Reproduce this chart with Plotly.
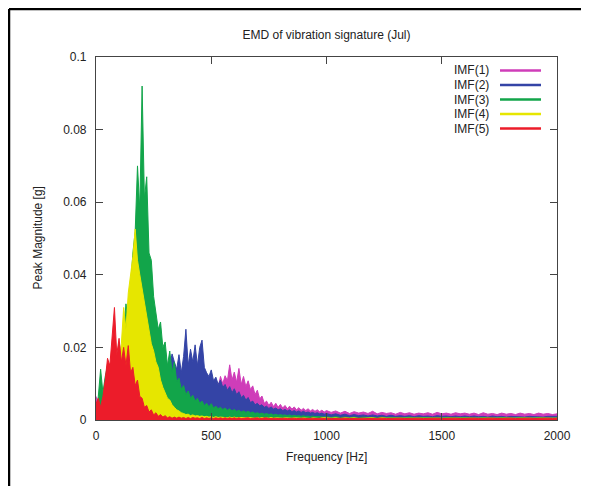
import plotly.graph_objects as go

# ---------------- data ----------------
# frequency grid [Hz]: 10 Hz steps up to 1000 Hz, 20 Hz steps above
freq_hz = list(range(0, 1001, 10)) + list(range(1020, 2001, 20))

series_names = ["IMF(1)", "IMF(2)", "IMF(3)", "IMF(4)", "IMF(5)"]

imf1 = [
    0.0065, 0.0040, 0.0030, 0.0020, 0.0015, 0.0018, 0.0012, 0.0016, 0.0012, 0.0015,
    0.0012, 0.0016, 0.0013, 0.0017, 0.0014, 0.0018, 0.0015, 0.0019, 0.0016, 0.0020,
    0.0018, 0.0022, 0.0020, 0.0025, 0.0022, 0.0028, 0.0025, 0.0030, 0.0028, 0.0034,
    0.0032, 0.0038, 0.0036, 0.0042, 0.0040, 0.0046, 0.0044, 0.0050, 0.0048, 0.0055,
    0.0052, 0.0060, 0.0058, 0.0066, 0.0064, 0.0072, 0.0070, 0.0078, 0.0076, 0.0085,
    0.0082, 0.0096, 0.0110, 0.0090, 0.0120, 0.0100, 0.0122, 0.0108, 0.0152, 0.0110,
    0.0132, 0.0104, 0.0142, 0.0098, 0.0120, 0.0092, 0.0108, 0.0084, 0.0094, 0.0070,
    0.0082, 0.0058, 0.0066, 0.0046, 0.0052, 0.0040, 0.0049, 0.0037, 0.0046, 0.0035,
    0.0043, 0.0033, 0.0040, 0.0031, 0.0038, 0.0030, 0.0036, 0.0028, 0.0034, 0.0027,
    0.0032, 0.0026, 0.0031, 0.0025, 0.0029, 0.0024, 0.0028, 0.0023, 0.0027, 0.0022,
    0.0026,
    0.0021, 0.0025, 0.0019, 0.0024, 0.0018, 0.0023, 0.0019, 0.0022, 0.0018, 0.0024,
    0.0017, 0.0021, 0.0018, 0.0020, 0.0016, 0.0021, 0.0017, 0.0020, 0.0016, 0.0019,
    0.0017, 0.0020, 0.0016, 0.0021, 0.0017, 0.0019, 0.0016, 0.0020, 0.0017, 0.0019,
    0.0016, 0.0019, 0.0015, 0.0020, 0.0016, 0.0018, 0.0015, 0.0019, 0.0016, 0.0018,
    0.0015, 0.0019, 0.0016, 0.0018, 0.0015, 0.0019, 0.0016, 0.0018, 0.0015, 0.0017,
]

imf2 = [
    0.0008, 0.0012, 0.0006, 0.0010, 0.0020, 0.0010, 0.0035, 0.0018, 0.0040, 0.0020,
    0.0032, 0.0015, 0.0025, 0.0014, 0.0030, 0.0020, 0.0032, 0.0025, 0.0036, 0.0030,
    0.0040, 0.0036, 0.0048, 0.0044, 0.0056, 0.0052, 0.0066, 0.0062, 0.0080, 0.0090,
    0.0105, 0.0120, 0.0150, 0.0182, 0.0160, 0.0140, 0.0180, 0.0130, 0.0175, 0.0250,
    0.0150, 0.0195, 0.0160, 0.0207, 0.0150, 0.0200, 0.0220, 0.0145, 0.0130, 0.0120,
    0.0138, 0.0108, 0.0118, 0.0098, 0.0110, 0.0090, 0.0098, 0.0082, 0.0092, 0.0075,
    0.0086, 0.0070, 0.0078, 0.0062, 0.0068, 0.0055, 0.0062, 0.0048, 0.0052, 0.0042,
    0.0046, 0.0039, 0.0042, 0.0035, 0.0038, 0.0032, 0.0036, 0.0030, 0.0033, 0.0028,
    0.0031, 0.0026, 0.0029, 0.0025, 0.0028, 0.0023, 0.0026, 0.0022, 0.0025, 0.0021,
    0.0024, 0.0020, 0.0022, 0.0019, 0.0021, 0.0018, 0.0020, 0.0017, 0.0019, 0.0016,
    0.0018,
    0.0014, 0.0017, 0.0013, 0.0016, 0.0012, 0.0015, 0.0012, 0.0014, 0.0011, 0.0014,
    0.0011, 0.0013, 0.0010, 0.0013, 0.0010, 0.0012, 0.0010, 0.0012, 0.0009, 0.0012,
    0.0010, 0.0011, 0.0009, 0.0012, 0.0010, 0.0011, 0.0009, 0.0011, 0.0009, 0.0011,
    0.0009, 0.0011, 0.0009, 0.0010, 0.0008, 0.0011, 0.0009, 0.0010, 0.0008, 0.0010,
    0.0009, 0.0010, 0.0008, 0.0010, 0.0009, 0.0010, 0.0008, 0.0010, 0.0009, 0.0010,
]

imf3 = [
    0.0020, 0.0065, 0.0140, 0.0075, 0.0120, 0.0150, 0.0095, 0.0140, 0.0175, 0.0150,
    0.0215, 0.0170, 0.0240, 0.0320, 0.0270, 0.0380, 0.0460, 0.0520, 0.0700, 0.0580,
    0.0920, 0.0610, 0.0670, 0.0460, 0.0440, 0.0340, 0.0300, 0.0250, 0.0270, 0.0200,
    0.0215, 0.0150, 0.0190, 0.0130, 0.0160, 0.0105, 0.0115, 0.0085, 0.0095, 0.0070,
    0.0080, 0.0060, 0.0068, 0.0052, 0.0060, 0.0046, 0.0052, 0.0040, 0.0046, 0.0036,
    0.0045, 0.0033, 0.0038, 0.0031, 0.0035, 0.0029, 0.0033, 0.0027, 0.0031, 0.0025,
    0.0029, 0.0024, 0.0027, 0.0022, 0.0025, 0.0021, 0.0024, 0.0020, 0.0022, 0.0018,
    0.0020, 0.0017, 0.0019, 0.0016, 0.0018, 0.0015, 0.0017, 0.0014, 0.0016, 0.0013,
    0.0015, 0.0013, 0.0014, 0.0012, 0.0014, 0.0011, 0.0013, 0.0011, 0.0012, 0.0010,
    0.0012, 0.0010, 0.0011, 0.0009, 0.0011, 0.0009, 0.0010, 0.0009, 0.0010, 0.0008,
    0.0009,
    0.0007, 0.0009, 0.0007, 0.0008, 0.0006, 0.0008, 0.0006, 0.0008, 0.0006, 0.0007,
    0.0006, 0.0008, 0.0006, 0.0007, 0.0006, 0.0007, 0.0006, 0.0008, 0.0006, 0.0007,
    0.0006, 0.0007, 0.0006, 0.0007, 0.0005, 0.0007, 0.0006, 0.0007, 0.0006, 0.0007,
    0.0006, 0.0007, 0.0005, 0.0007, 0.0006, 0.0007, 0.0005, 0.0007, 0.0006, 0.0007,
    0.0005, 0.0007, 0.0006, 0.0007, 0.0005, 0.0007, 0.0006, 0.0007, 0.0005, 0.0006,
]

imf4 = [
    0.0015, 0.0025, 0.0012, 0.0030, 0.0020, 0.0045, 0.0035, 0.0070, 0.0060, 0.0120,
    0.0160, 0.0210, 0.0310, 0.0250, 0.0350, 0.0400, 0.0450, 0.0526, 0.0440, 0.0400,
    0.0360, 0.0330, 0.0280, 0.0250, 0.0210, 0.0190, 0.0160, 0.0145, 0.0110, 0.0090,
    0.0075, 0.0060, 0.0055, 0.0042, 0.0035, 0.0028, 0.0025, 0.0020, 0.0018, 0.0015,
    0.0016, 0.0012, 0.0014, 0.0011, 0.0012, 0.0010, 0.0011, 0.0009, 0.0010, 0.0008,
    0.0009, 0.0007, 0.0009, 0.0007, 0.0008, 0.0007, 0.0008, 0.0006, 0.0008, 0.0006,
    0.0008, 0.0006, 0.0007, 0.0006, 0.0007, 0.0006, 0.0007, 0.0006, 0.0007, 0.0005,
    0.0007, 0.0005, 0.0007, 0.0005, 0.0006, 0.0005, 0.0007, 0.0005, 0.0006, 0.0005,
    0.0006, 0.0005, 0.0006, 0.0005, 0.0006, 0.0005, 0.0006, 0.0005, 0.0006, 0.0005,
    0.0006, 0.0005, 0.0006, 0.0004, 0.0006, 0.0005, 0.0006, 0.0004, 0.0006, 0.0005,
    0.0006,
    0.0005, 0.0006, 0.0004, 0.0006, 0.0005, 0.0006, 0.0004, 0.0005, 0.0005, 0.0006,
    0.0004, 0.0006, 0.0005, 0.0005, 0.0004, 0.0006, 0.0005, 0.0005, 0.0004, 0.0006,
    0.0005, 0.0005, 0.0004, 0.0006, 0.0005, 0.0005, 0.0004, 0.0006, 0.0005, 0.0005,
    0.0004, 0.0006, 0.0005, 0.0005, 0.0004, 0.0006, 0.0005, 0.0005, 0.0004, 0.0005,
    0.0005, 0.0005, 0.0004, 0.0006, 0.0005, 0.0005, 0.0004, 0.0005, 0.0005, 0.0005,
]

imf5 = [
    0.0045, 0.0060, 0.0035, 0.0065, 0.0110, 0.0170, 0.0150, 0.0240, 0.0310, 0.0180,
    0.0225, 0.0160, 0.0200, 0.0150, 0.0205, 0.0130, 0.0145, 0.0095, 0.0110, 0.0065,
    0.0060, 0.0035, 0.0040, 0.0022, 0.0028, 0.0014, 0.0020, 0.0010, 0.0015, 0.0008,
    0.0012, 0.0006, 0.0009, 0.0005, 0.0008, 0.0005, 0.0008, 0.0005, 0.0007, 0.0004,
    0.0007, 0.0004, 0.0007, 0.0005, 0.0006, 0.0004, 0.0007, 0.0004, 0.0006, 0.0004,
    0.0006, 0.0004, 0.0006, 0.0004, 0.0006, 0.0004, 0.0006, 0.0004, 0.0006, 0.0004,
    0.0006, 0.0004, 0.0006, 0.0004, 0.0005, 0.0004, 0.0006, 0.0004, 0.0005, 0.0004,
    0.0006, 0.0004, 0.0005, 0.0004, 0.0006, 0.0004, 0.0005, 0.0004, 0.0005, 0.0004,
    0.0005, 0.0004, 0.0005, 0.0004, 0.0005, 0.0004, 0.0005, 0.0004, 0.0005, 0.0004,
    0.0005, 0.0004, 0.0005, 0.0004, 0.0005, 0.0004, 0.0005, 0.0004, 0.0005, 0.0004,
    0.0005,
    0.0004, 0.0005, 0.0004, 0.0005, 0.0004, 0.0005, 0.0004, 0.0005, 0.0004, 0.0005,
    0.0004, 0.0005, 0.0004, 0.0005, 0.0004, 0.0005, 0.0004, 0.0005, 0.0004, 0.0005,
    0.0004, 0.0005, 0.0004, 0.0005, 0.0004, 0.0005, 0.0004, 0.0005, 0.0004, 0.0005,
    0.0004, 0.0005, 0.0004, 0.0005, 0.0004, 0.0005, 0.0004, 0.0005, 0.0004, 0.0005,
    0.0004, 0.0005, 0.0004, 0.0005, 0.0004, 0.0005, 0.0004, 0.0005, 0.0004, 0.0005,
]

x_tick_vals = [0, 500, 1000, 1500, 2000]
x_tick_text = ["0", "500", "1000", "1500", "2000"]
y_tick_vals = [0, 0.02, 0.04, 0.06, 0.08, 0.1]
y_tick_text = ["0", "0.02", "0.04", "0.06", "0.08", "0.1"]

# ---------------- styling ----------------
colors = ["#CF3DB9", "#3444A6", "#12A54A", "#E6E600", "#EC1C2A"]
FONT = "Liberation Sans, Arial, sans-serif"
TXT = "#222222"
OFF = 8                      # page body margin of the browser
W, H = 589 - OFF, 486 - OFF  # figure size inside the page
# plot area in page pixels: x 96..557, y 57..420
L, T = 96 - OFF, 57 - OFF
PW, PH = 461, 363
R, B = W - L - PW, H - T - PH


def px_to_paper_x(px):       # px: page pixel
    return (px - OFF - L) / PW


def px_to_paper_y(py):
    return (T + PH - (py - OFF)) / PH


fig = go.Figure()
for name, vals, col in zip(series_names, [imf1, imf2, imf3, imf4, imf5], colors):
    fig.add_trace(go.Scatter(
        x=freq_hz, y=vals, name=name, mode="lines",
        line=dict(color=col, width=1), fill="tozeroy", fillcolor=col,
        showlegend=False,
    ))

shapes = [
    # outer frame of the figure (left and top edges)
    dict(type="line", xref="paper", yref="paper",
         x0=px_to_paper_x(9), x1=px_to_paper_x(9),
         y0=px_to_paper_y(9), y1=px_to_paper_y(490),
         line=dict(color="black", width=2.5)),
    dict(type="line", xref="paper", yref="paper",
         x0=px_to_paper_x(9), x1=px_to_paper_x(595),
         y0=px_to_paper_y(9), y1=px_to_paper_y(9),
         line=dict(color="black", width=2.5)),
]
annotations = [
    dict(text="Frequency [Hz]", xref="paper", yref="paper",
         x=0.5, y=px_to_paper_y(457), xanchor="center", yanchor="middle",
         showarrow=False, font=dict(family=FONT, size=12, color=TXT)),
    dict(text="Peak Magnitude [g]", xref="paper", yref="paper",
         x=px_to_paper_x(37), y=0.5, xanchor="center", yanchor="middle",
         textangle=-90, showarrow=False, font=dict(family=FONT, size=12, color=TXT)),
]

# gnuplot-style key: text then line sample
for i, (name, col) in enumerate(zip(series_names, colors)):
    ypx = 70.5 + i * 14.5
    annotations.append(dict(
        text=name, xref="paper", yref="paper",
        x=px_to_paper_x(491), y=px_to_paper_y(ypx),
        xanchor="right", yanchor="middle", showarrow=False,
        font=dict(family=FONT, size=12, color=TXT)))
    shapes.append(dict(
        type="line", xref="paper", yref="paper",
        x0=px_to_paper_x(500), x1=px_to_paper_x(541),
        y0=px_to_paper_y(ypx), y1=px_to_paper_y(ypx),
        line=dict(color=col, width=2.5)))

axis_common = dict(
    showgrid=False, zeroline=False, showline=True, linecolor="#444444", linewidth=1.2,
    mirror="ticks", ticks="inside", ticklen=7, tickwidth=1.2, tickcolor="#444444",
    tickfont=dict(family=FONT, size=12, color=TXT),
)

fig.update_layout(
    width=W, height=H,
    margin=dict(l=L, r=R, t=T, b=B),
    paper_bgcolor="white", plot_bgcolor="white",
    title=dict(text="EMD of vibration signature (Jul)", x=0.5, xref="paper",
               y=1 - (35 - OFF) / H, yref="container", xanchor="center", yanchor="middle",
               font=dict(family=FONT, size=12, color=TXT)),
    xaxis=dict(range=[0, 2000], tickvals=x_tick_vals, ticktext=x_tick_text,
               ticklabelstandoff=4, **axis_common),
    yaxis=dict(range=[0, 0.1], tickvals=y_tick_vals, ticktext=y_tick_text,
               ticklabelstandoff=6, **axis_common),
    shapes=shapes, annotations=annotations,
)

fig.write_html("out.html")
